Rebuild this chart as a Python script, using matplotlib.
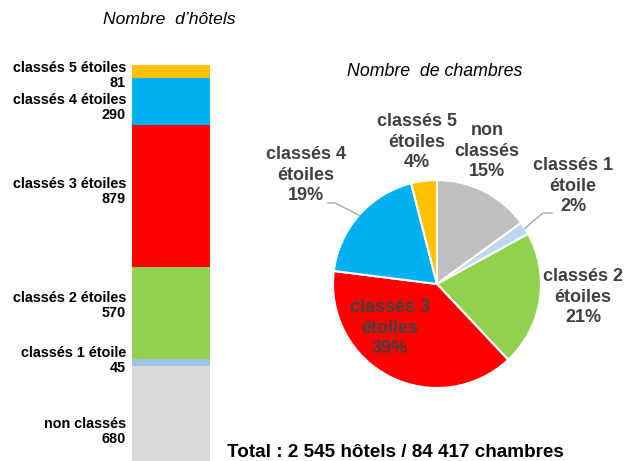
import matplotlib
matplotlib.use("Agg")
import matplotlib.pyplot as plt
import numpy as np

plt.rcParams['font.family'] = ['Liberation Sans', 'DejaVu Sans']

# Data
bar_categories = ["non classés", "classés 1 étoile", "classés 2 étoiles",
                  "classés 3 étoiles", "classés 4 étoiles", "classés 5 étoiles"]
hotels = [680, 45, 570, 879, 290, 81]
bar_colors = ["#D9D9D9", "#9DC3E6", "#92D050", "#FF0000", "#00B0F0", "#FFC000"]

pie_labels = ["non\nclassés", "classés 1\nétoile", "classés 2\nétoiles",
              "classés 3\nétoiles", "classés 4\nétoiles", "classés 5\nétoiles"]
rooms_pct = [15, 2, 21, 39, 19, 4]
pie_colors = ["#BFBFBF", "#BDD7EE", "#92D050", "#FF0000", "#00B0F0", "#FFC000"]

title_left = "Nombre  d\u2019hôtels"
title_right = "Nombre  de chambres"
total_text = "Total : 2 545 hôtels / 84 417 chambres"

W, H = 625, 461
fig = plt.figure(figsize=(W / 100, H / 100), dpi=100)

# ---- stacked bar ----
bx0, bx1, btop = 132, 210, 65
axb = fig.add_axes([bx0 / W, 0, (bx1 - bx0) / W, (H - btop) / H])
total = sum(hotels)
scale = 0.1615  # px per unit
visible = (H - btop) / scale
bottom = 0
for v, c in zip(hotels, bar_colors):
    axb.bar(0, v, bottom=bottom, width=1.0, color=c, edgecolor='none')
    bottom += v
axb.set_xlim(-0.5, 0.5)
axb.set_ylim(total - visible, total)
axb.axis('off')

# labels left of bar
label_x = -0.5 - 6 / (bx1 - bx0)
offsets = [10, -2, -7, -4, 6, 4]  # px fine tuning (positive = down)
cum = np.cumsum([0] + hotels)
for i, (name, v) in enumerate(zip(bar_categories, hotels)):
    yc = (cum[i] + cum[i + 1]) / 2 - offsets[i] / scale
    axb.text(label_x, yc, f"{name}\n{v}", ha='right', va='center',
             fontsize=10.4, fontweight='bold', color='black',
             linespacing=1.08, clip_on=False)

fig.text(169 / W, 1 - 20 / H, title_left, ha='center', va='center',
         fontsize=12.6, style='italic', color='black')

# ---- pie ----
cx, cy, R = 437, 284, 104
size = 3 * R
axp = fig.add_axes([(cx - size / 2) / W, (H - cy - size / 2) / H, size / W, size / H])
wedges, _ = axp.pie(rooms_pct, colors=pie_colors, startangle=90, counterclock=False,
                    radius=1.0, wedgeprops=dict(edgecolor='white', linewidth=1.5))
axp.set_xlim(-1.5, 1.5)
axp.set_ylim(-1.5, 1.5)
axp.set_aspect('equal')
axp.axis('off')

def px2d(x, y):
    return (x - cx) / R, (cy - y) / R

label_px = [(487, 151), (573, 186), (583, 297), (390, 328), (306, 175), (417, 142)]
for lab, pct, (lx, ly) in zip(pie_labels, rooms_pct, label_px):
    dx, dy = px2d(lx, ly)
    axp.text(dx, dy, f"{lab}\n{pct}%", ha='center', va='center', fontsize=13,
             fontweight='bold', color='#404040', linespacing=1.25, clip_on=False)

# leader lines
def wedge_mid(w):
    a = np.deg2rad((w.theta1 + w.theta2) / 2)
    return np.cos(a), np.sin(a)

mx, my = wedge_mid(wedges[1])
e1 = px2d(543, 213); e2 = px2d(552, 213)
axp.plot([mx, e1[0], e2[0]], [my, e1[1], e2[1]], color='#A6A6A6', lw=1, clip_on=False)
mx, my = wedge_mid(wedges[4])
e1 = px2d(335, 203); e2 = px2d(328, 203)
axp.plot([mx, e1[0], e2[0]], [my, e1[1], e2[1]], color='#A6A6A6', lw=1, clip_on=False)

fig.text(435 / W, 1 - 72 / H, title_right, ha='center', va='center',
         fontsize=12.8, style='italic', color='black')

fig.text(395 / W, 1 - 452 / H, total_text, ha='center', va='center',
         fontsize=13.6, fontweight='bold', color='black')

fig.savefig("out.png", dpi=100)
